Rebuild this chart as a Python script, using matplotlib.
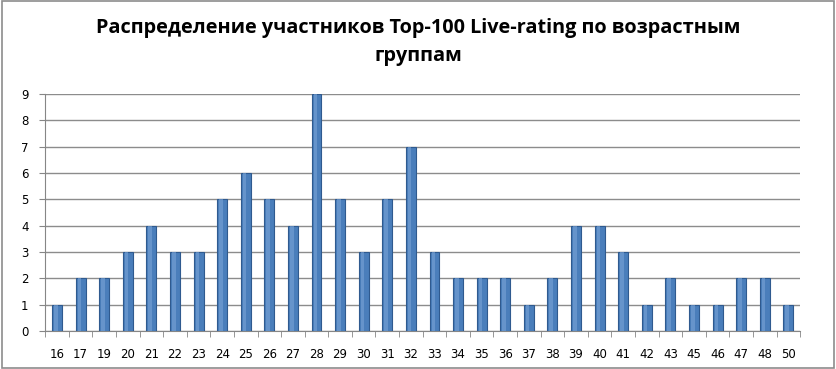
import matplotlib.pyplot as plt
import numpy as np

# ages and number of players
ages = ['16', '17', '19', '20', '21', '22', '23', '24', '25', '26', '27', '28', '29', '30', '31', '32',
        '33', '34', '35', '36', '37', '38', '39', '40', '41', '42', '43', '45', '46', '47', '48', '50']
counts = [1, 2, 2, 3, 4, 3, 3, 5, 6, 5, 4, 9, 5, 3, 5, 7,
          3, 2, 2, 2, 1, 2, 4, 4, 3, 1, 2, 1, 1, 2, 2, 1]
yticks = list(range(0, 10))

fig = plt.figure(figsize=(8.37, 3.69), dpi=100)
fig.patch.set_facecolor('white')
fig.patches.append(plt.Rectangle((0.002, 0.003), 0.995, 0.993, transform=fig.transFigure,
                                 fill=False, edgecolor='#8c8c8c', linewidth=1.2))

ax = fig.add_axes([0.054, 0.103, 0.902, 0.642])
x = np.arange(len(ages))

ax.bar(x, counts, width=0.42, color='#4a7ebb', edgecolor='#2f5a8f', linewidth=0.8, zorder=3)
# lighter highlight to mimic the cylinder look
ax.bar(x - 0.05, counts, width=0.15, color='#7aa3d6', linewidth=0, zorder=4, alpha=0.6)

ax.set_xlim(-0.5, len(ages) - 0.5)
ax.set_ylim(0, 9)
ax.set_yticks(yticks)
ax.set_yticklabels([str(v) for v in yticks], fontsize=8.5)
ax.set_xticks(x)
ax.set_xticklabels(ages, fontsize=8.5)
ax.set_xticks(np.arange(-0.5, len(ages), 1), minor=True)
ax.tick_params(axis='x', which='major', length=0, pad=12)
ax.tick_params(axis='x', which='minor', length=4, color='#868686')
ax.tick_params(axis='y', length=4, color='#868686', pad=8)

ax.grid(axis='y', color='#8c8c8c', linewidth=1.0, zorder=0)
for s in ['top', 'right']:
    ax.spines[s].set_visible(False)
ax.spines['left'].set_color('#868686')
ax.spines['bottom'].set_color('#868686')

fig.text(0.5, 0.925, 'Распределение участников Top-100 Live-rating по возрастным',
         ha='center', va='center', fontsize=14.3, fontweight='bold', family='Open Sans')
fig.text(0.5, 0.848, 'группам',
         ha='center', va='center', fontsize=14.3, fontweight='bold', family='Open Sans')

fig.savefig('out.png', dpi=100)
